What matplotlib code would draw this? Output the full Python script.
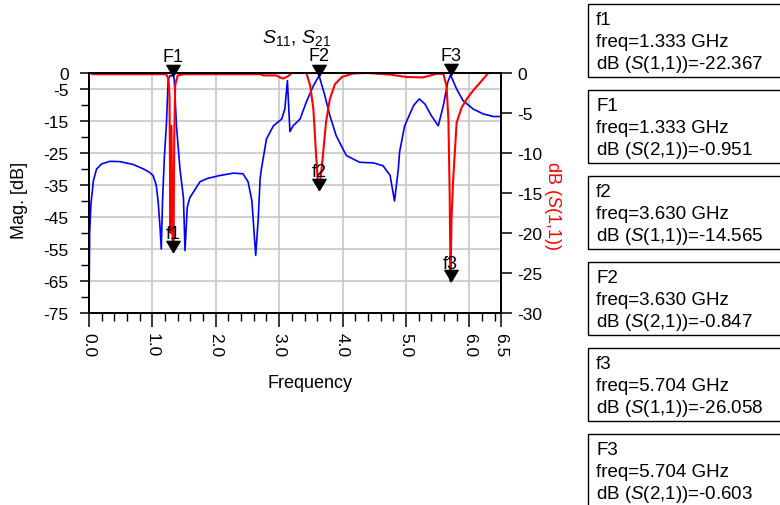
import numpy as np
import matplotlib
matplotlib.use('Agg')
import matplotlib.pyplot as plt
from matplotlib.patches import Rectangle

plt.rcParams['font.family'] = ['Liberation Sans', 'DejaVu Sans']
plt.rcParams['mathtext.fontset'] = 'custom'
plt.rcParams['mathtext.rm'] = 'Liberation Sans'
plt.rcParams['mathtext.it'] = 'Liberation Sans:italic'

# S21 in dB (blue, left axis)
s21_freq = [0.0, 0.01, 0.03, 0.07, 0.12, 0.2, 0.33, 0.49, 0.7, 0.86, 0.95, 1.01, 1.06, 1.09, 1.12, 1.14,
            1.16, 1.19, 1.22, 1.25, 1.28, 1.30, 1.333, 1.345, 1.38, 1.435, 1.49, 1.515, 1.55, 1.59,
            1.75, 1.86, 2.07, 2.28, 2.43, 2.51, 2.57, 2.63, 2.67, 2.70, 2.72, 2.8, 2.91, 3.04, 3.09,
            3.13, 3.17, 3.22, 3.33, 3.43, 3.54, 3.63, 3.72, 3.8, 3.9, 4.06, 4.27, 4.49, 4.64, 4.75,
            4.82, 4.88, 4.90, 4.98, 5.12, 5.21, 5.30, 5.40, 5.51, 5.59, 5.66, 5.704, 5.80, 5.90,
            6.06, 6.22, 6.38, 6.5]
s21_db = [-75, -50, -41, -33.6, -30, -28.4, -27.6, -27.7, -28.6, -30, -31, -32, -35, -40, -48, -55,
          -40, -26, -16.5, -2, -0.8, -0.9, -0.951, -2, -16.5, -30, -39, -55.5, -42, -39,
          -34, -33, -32, -31.3, -31.5, -34, -40, -57, -45.6, -33, -30, -20.6, -16.5, -14.4, -11.25,
          -2.4, -18.3, -16.5, -14.4, -9, -4, -0.847, -7, -13.3, -19.6, -25.8, -27.9, -28.1, -29, -32,
          -40, -30, -24.7, -16.5, -10.2, -8.1, -9.7, -13.3, -16.5, -10.2, -2.9, -0.603, -5, -8.6,
          -11.25, -12.8, -13.6, -13.6]

# S11 in dB (red, right axis)
s11_freq = [0.0, 0.04, 0.05, 1.2, 1.23, 1.255, 1.27, 1.285, 1.30, 1.32, 1.333, 1.345, 1.36, 1.40,
            1.5, 2.7, 2.75, 2.95, 3.0, 3.06, 3.14, 3.2, 3.43, 3.49, 3.54, 3.58, 3.61, 3.63, 3.67,
            3.695, 3.74, 3.80, 3.88, 3.99, 4.17, 4.4, 4.75, 5.01, 5.27, 5.48, 5.59, 5.64, 5.67,
            5.69, 5.704, 5.72, 5.746, 5.80, 5.88, 5.96, 6.06, 6.17, 6.3]
s11_db = [0, 0, -0.15, -0.15, -0.3, -0.8, -3, -20, -6.6, -21.5, -22.367, -8, -1.5, -0.3,
          -0.15, -0.15, -0.3, -0.3, -0.5, -0.7, -0.4, 0, 0, -1.6, -4.5, -9.9, -13.5, -14.565, -12,
          -9.9, -6.1, -3.25, -1.4, -0.5, -0.05, 0, -0.2, -0.5, -0.55, -0.1, -0.1, -1.6, -5.75,
          -15, -26.058, -18, -13.25, -6.2, -4.3, -3.25, -2.2, -1.2, 0]

# markers
mk_freq = [1.333, 3.630, 5.704]
mk_s11 = [-22.367, -14.565, -26.058]
mk_s21 = [-0.951, -0.847, -0.603]
mk_s11_names = ['f1', 'f2', 'f3']
mk_s21_names = ['F1', 'F2', 'F3']

xtick_pos = [0, 1, 2, 3, 4, 5, 6, 6.5]
xtick_lab = ['0.0', '1.0', '2.0', '3.0', '4.0', '5.0', '6.0', '6.5']
ytick_left = [0, -5, -15, -25, -35, -45, -55, -65, -75]
ytick_right = [0, -5, -10, -15, -20, -25, -30]

W, H = 780, 506
def fx(p):
    return p / W
def fy(p):
    return 1 - p / H

fig = plt.figure(figsize=(7.8, 5.06), dpi=100)
ax1 = fig.add_axes([fx(89), fy(314), fx(501) - fx(89), fy(74) - fy(314)])
ax2 = ax1.twinx()

ax1.plot(s21_freq, s21_db, color='#0000ff', lw=1.2)
ax2.plot(s11_freq, s11_db, color='#ff0000', lw=1.5)

ax1.set_xlim(0, 6.5)
ax1.set_ylim(-75, 0)
ax2.set_ylim(-30, 0)

ax1.set_xticks(xtick_pos)
ax1.set_xticklabels(xtick_lab, rotation=270, ha='center', va='top')
ax1.set_xticks(np.arange(0.2, 6.5, 0.2), minor=True)
ax1.set_yticks(ytick_left)
ax1.set_yticklabels([str(v) for v in ytick_left])
ax1.set_yticks(np.arange(-70, 0, 10), minor=True)
ax2.set_yticks(ytick_right)
ax2.set_yticklabels([str(v) for v in ytick_right])

ax1.grid(which='major', color='#c8c8c8', lw=1.2)
ax1.set_axisbelow(True)

ax1.tick_params(axis='x', which='major', direction='out', length=10, width=1.1, pad=4, labelsize=12.5)
ax1.tick_params(axis='x', which='minor', direction='out', length=5.5, width=1.0)
ax1.tick_params(axis='y', which='major', direction='out', length=6.5, width=1.1, pad=8, labelsize=12.5)
ax1.tick_params(axis='y', which='minor', direction='out', length=5.5, width=1.0)
ax2.tick_params(axis='y', direction='out', length=8, width=1.1, pad=4, labelsize=12.5)

for ax in (ax1, ax2):
    for s in ax.spines.values():
        s.set_linewidth(1.3)
        s.set_color('black')

# marker triangles (tip at the point)
tri = [(0, 0), (-0.6, 1), (0.6, 1), (0, 0)]
ax2.plot(mk_freq, mk_s21, transform=ax1.transData, ls='none', marker=tri, ms=16,
         color='black', clip_on=False)
ax2.plot(mk_freq, mk_s11, ls='none', marker=tri, ms=16, color='black', clip_on=False)
for i in range(3):
    ax2.annotate(mk_s21_names[i], xy=(mk_freq[i], mk_s21[i]), xycoords=ax1.transData,
                 xytext=(0, 11), textcoords='offset points', ha='center', va='baseline',
                 fontsize=13, annotation_clip=False)
    ax2.annotate(mk_s11_names[i], xy=(mk_freq[i], mk_s11[i]),
                 xytext=(0, 10), textcoords='offset points', ha='center', va='baseline',
                 fontsize=13, annotation_clip=False)

fig.text(fx(296), fy(43), r'$S_{11}$, $S_{21}$', ha='center', va='baseline', fontsize=14)
fig.text(fx(20), fy(200), 'Mag. [dB]', rotation=90, ha='center', va='center', fontsize=13)
fig.text(fx(552), fy(205), r'dB ($S$(1,1))', rotation=270, ha='center', va='center',
         fontsize=13, color='red')
fig.text(fx(310), fy(384), 'Frequency', ha='center', va='center', fontsize=13)

# marker readout boxes
box_tops = [5, 91, 177, 263, 349, 435]
rows = []
for i in range(3):
    rows.append((mk_s11_names[i], mk_freq[i], '1,1', mk_s11[i]))
    rows.append((mk_s21_names[i], mk_freq[i], '2,1', mk_s21[i]))
for T, (name, f, sp, val) in zip(box_tops, rows):
    fig.add_artist(Rectangle((fx(588), fy(T + 73)), 0.4, 73 / H, transform=fig.transFigure,
                             fill=False, ec='black', lw=1.0))
    fig.text(fx(596), fy(T + 20), name, va='baseline', fontsize=13.5)
    fig.text(fx(596), fy(T + 42), 'freq=%.3f GHz' % f, va='baseline', fontsize=13.5)
    fig.text(fx(596), fy(T + 64), r'dB ($S$(%s))=%.3f' % (sp, val), va='baseline', fontsize=13.5)

fig.savefig('out.png', dpi=100)
